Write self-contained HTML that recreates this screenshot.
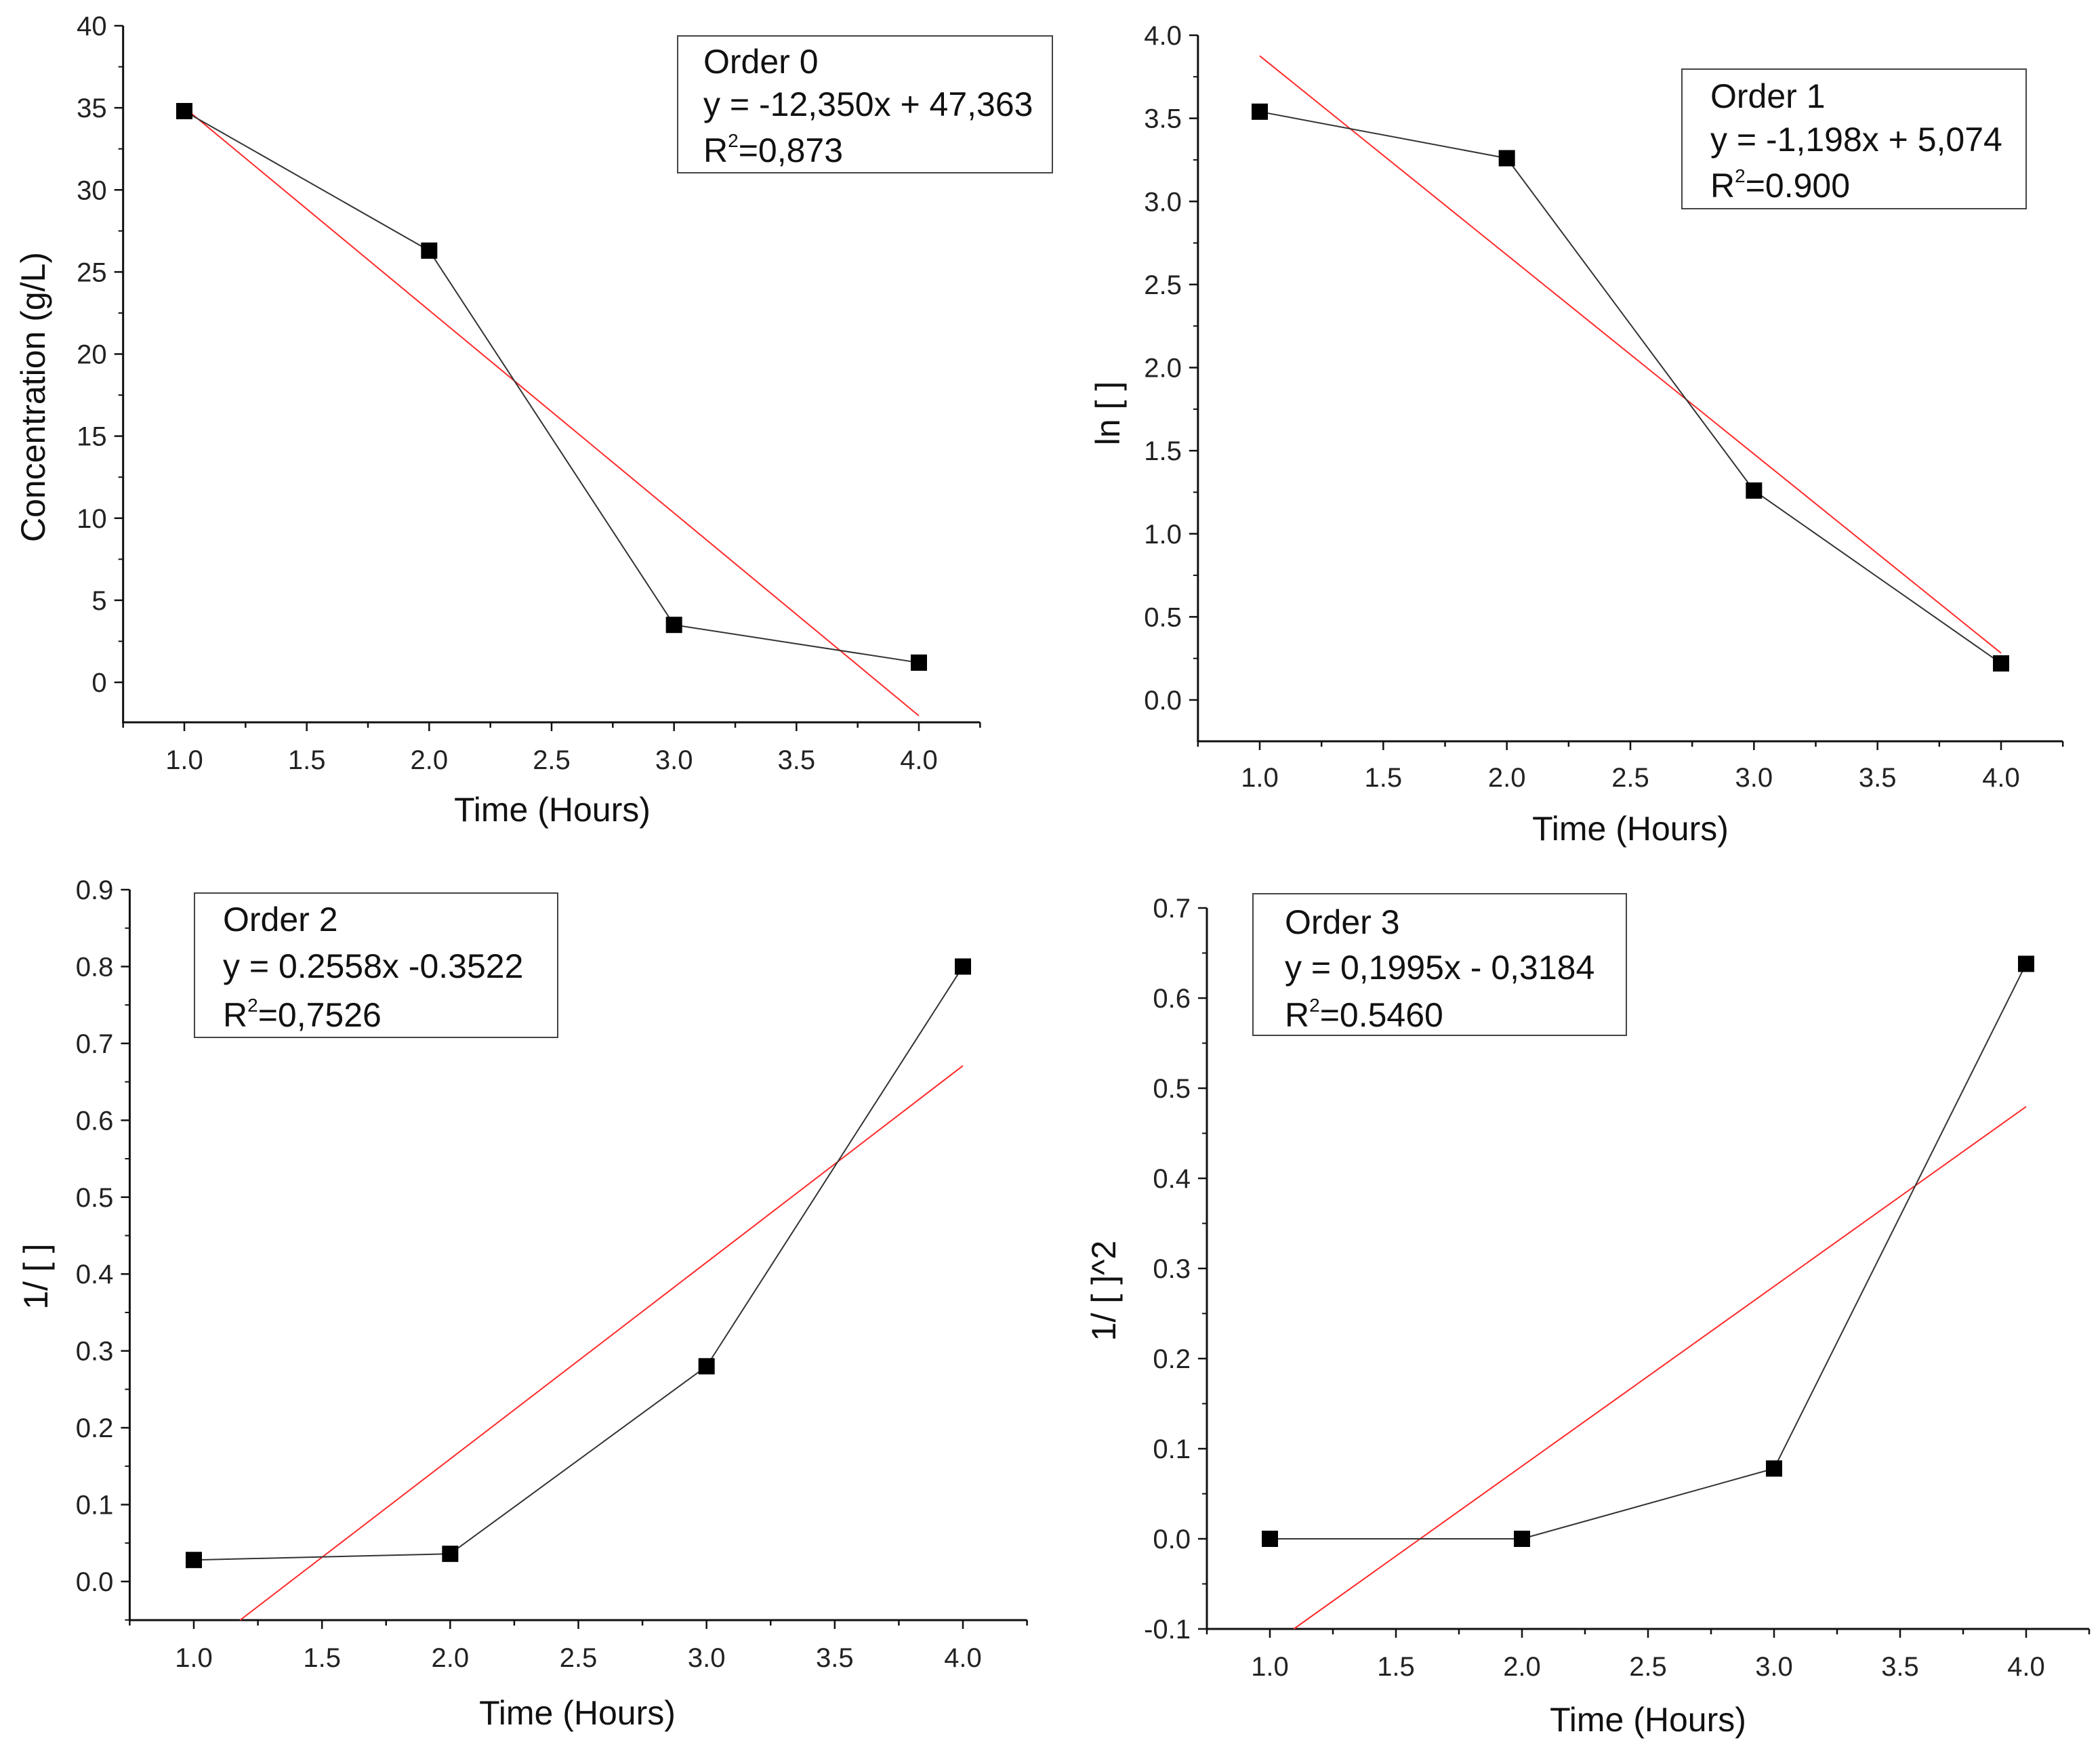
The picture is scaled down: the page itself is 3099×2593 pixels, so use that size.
<!DOCTYPE html>
<html><head><meta charset="utf-8"><style>
html,body{margin:0;padding:0;background:#fff;}
svg{display:block;font-family:"Liberation Sans",Arial,sans-serif;}
</style></head><body>
<svg id="chart" width="3099" height="2593" viewBox="0 0 3099 2593" xmlns="http://www.w3.org/2000/svg"></svg>
<script>
const times = [1, 2, 3, 4];
const order0Values = [34.8, 26.3, 3.5, 1.2];
const order1Values = [3.54, 3.26, 1.26, 0.22];
const order2Values = [0.028, 0.036, 0.28, 0.80];
const order3Values = [0.0, 0.0, 0.078, 0.638];
const fitSlopes = [-12.350, -1.198, 0.2558, 0.1995];
const fitIntercepts = [47.363, 5.074, -0.3522, -0.3184];
const xTickLabels = ["1.0", "1.5", "2.0", "2.5", "3.0", "3.5", "4.0"];
const order0YTicks = ["0", "5", "10", "15", "20", "25", "30", "35", "40"];
const order1YTicks = ["0.0", "0.5", "1.0", "1.5", "2.0", "2.5", "3.0", "3.5", "4.0"];
const order2YTicks = ["0.0", "0.1", "0.2", "0.3", "0.4", "0.5", "0.6", "0.7", "0.8", "0.9"];
const order3YTicks = ["-0.1", "0.0", "0.1", "0.2", "0.3", "0.4", "0.5", "0.6", "0.7"];
const legendTitles = ["Order 0", "Order 1", "Order 2", "Order 3"];
const legendEquations = ["y = -12,350x + 47,363", "y = -1,198x + 5,074", "y = 0.2558x -0.3522", "y = 0,1995x - 0,3184"];
const legendR2 = ["=0,873", "=0.900", "=0,7526", "=0.5460"];
const yTitles = ["Concentration (g/L)", "ln [ ]", "1/ [ ]", "1/ [ ]^2"];

const NS = "http://www.w3.org/2000/svg";
const svg = document.getElementById("chart");
function mk(tag, attrs, parent) {
  const e = document.createElementNS(NS, tag);
  for (const k in attrs) e.setAttribute(k, attrs[k]);
  (parent || svg).appendChild(e);
  return e;
}

const panels = [
  {vals: order0Values, ticks: order0YTicks, xL: 272, xR: 1356, yTopPx: 38, yZeroPx: 1007, bottomPx: 1066, yTopVal: 40,
   box: [1000, 53, 1553, 255], tx: 1038, tb: [108, 171, 239], ytx: 50, yty: 586, xtx: 815, xty: 1212, tickY: 1135},
  {vals: order1Values, ticks: order1YTicks, xL: 1859, xR: 2953, yTopPx: 52, yZeroPx: 1033, bottomPx: 1094, yTopVal: 4,
   box: [2482, 102, 2990, 308], tx: 2524, tb: [159, 223, 291], ytx: 1636, yty: 610, xtx: 2406, xty: 1240, tickY: 1161},
  {vals: order2Values, ticks: order2YTicks, xL: 286, xR: 1421, yTopPx: 1313, yZeroPx: 2334, bottomPx: 2391, yTopVal: 0.9,
   box: [287, 1318, 823, 1531], tx: 329, tb: [1374, 1443, 1515], ytx: 54, yty: 1884, xtx: 852, xty: 2545, tickY: 2460},
  {vals: order3Values, ticks: order3YTicks, xL: 1874, xR: 2990, yTopPx: 1340, yZeroPx: 2271, bottomPx: 2404, yTopVal: 0.7,
   box: [1849, 1319, 2400, 1528], tx: 1896, tb: [1378, 1445, 1515], ytx: 1630, yty: 1905, xtx: 2432, xty: 2555, tickY: 2473}
];

panels.forEach((p, i) => {
  const g = mk("g", {});
  
  
  const xs = v => p.xL + (v - 1) * (p.xR - p.xL) / 3;
  const ys = v => p.yZeroPx + v * (p.yTopPx - p.yZeroPx) / p.yTopVal;
  const xMin = 0.75, xMax = 4.25;
  const yMinVal = (p.bottomPx - p.yZeroPx) / ((p.yTopPx - p.yZeroPx) / p.yTopVal) - 1e-9;
  const yTickVals = p.ticks.map(Number);
  const step = yTickVals[1] - yTickVals[0];
  const ax = xs(xMin), right = xs(xMax), bottom = p.bottomPx;
  const axTop = ys(yTickVals[yTickVals.length - 1]);
  const ya = mk("line", {x1: ax, y1: axTop, x2: ax, y2: bottom, stroke: "#111", "stroke-width": 3}, g);
  
  
  const xa = mk("line", {x1: ax - 1.5, y1: bottom, x2: right, y2: bottom, stroke: "#111", "stroke-width": 3}, g);
  
  
  yTickVals.forEach((v, k) => {
    const y = ys(v);
    mk("line", {x1: ax - 13, y1: y, x2: ax, y2: y, stroke: "#111", "stroke-width": 2.5}, g);
    const t = mk("text", {x: ax - 24, y: y + 14, "text-anchor": "end", "font-size": 40, fill: "#222"}, g);
    t.textContent = p.ticks[k];
    
    
    const mv = v - step / 2;
    if (mv > yMinVal) { const my = ys(mv); mk("line", {x1: ax - 7, y1: my, x2: ax, y2: my, stroke: "#111", "stroke-width": 2}, g); }
  });
  for (let v = 0.75; v <= 4.2501; v += 0.25) {
    const x = xs(v);
    const major = Math.abs(v * 2 - Math.round(v * 2)) < 1e-6;
    mk("line", {x1: x, y1: bottom, x2: x, y2: bottom + (major ? 13 : 8), stroke: "#111", "stroke-width": 2.5}, g);
  }
  xTickLabels.forEach(lbl => {
    const t = mk("text", {x: xs(Number(lbl)), y: p.tickY, "text-anchor": "middle", "font-size": 40, fill: "#222"}, g);
    t.textContent = lbl;
    
    
  });
  const xt = mk("text", {x: p.xtx, y: p.xty, "text-anchor": "middle", "font-size": 50, fill: "#111"}, g);
  xt.textContent = "Time (Hours)";
  
  
  const yt = mk("text", {x: 0, y: 0, "text-anchor": "middle", "font-size": 50, fill: "#111", transform: `translate(${p.ytx + 16},${p.yty}) rotate(-90)`}, g);
  yt.textContent = yTitles[i];
  
  
  const a = fitSlopes[i], b = fitIntercepts[i];
  let x0 = 1;
  if (a * 1 + b < yMinVal) x0 = (yMinVal - b) / a;
  const fl = mk("line", {x1: xs(x0), y1: ys(a * x0 + b), x2: xs(4), y2: ys(a * 4 + b), stroke: "#ff2a2a", "stroke-width": 2}, g);
  
  
  const pts = times.map((t, k) => xs(t) + "," + ys(p.vals[k])).join(" ");
  const dl = mk("polyline", {points: pts, fill: "none", stroke: "#333", "stroke-width": 2}, g);
  
  
  times.forEach((t, k) => {
    const r = mk("rect", {x: xs(t) - 12, y: ys(p.vals[k]) - 12, width: 24, height: 24, fill: "#000"}, g);
    
    
  });
  const lg = mk("g", {}, g);
  
  
  const [bx0, by0, bx1, by1] = p.box;
  mk("rect", {x: bx0, y: by0, width: bx1 - bx0, height: by1 - by0, fill: "#fff", stroke: "#444", "stroke-width": 2}, lg);
  const l1 = mk("text", {x: p.tx, y: p.tb[0], "font-size": 50, fill: "#111"}, lg);
  l1.textContent = legendTitles[i];
  const l2 = mk("text", {x: p.tx, y: p.tb[1], "font-size": 50, fill: "#111"}, lg);
  l2.textContent = legendEquations[i];
  const l3 = mk("text", {x: p.tx, y: p.tb[2], "font-size": 50, fill: "#111"}, lg);
  const s1 = mk("tspan", {}, l3); s1.textContent = "R";
  const s2 = mk("tspan", {"font-size": 28, dy: -22}, l3); s2.textContent = "2";
  const s3 = mk("tspan", {dy: 22}, l3); s3.textContent = legendR2[i];
});
</script>
</body></html>
